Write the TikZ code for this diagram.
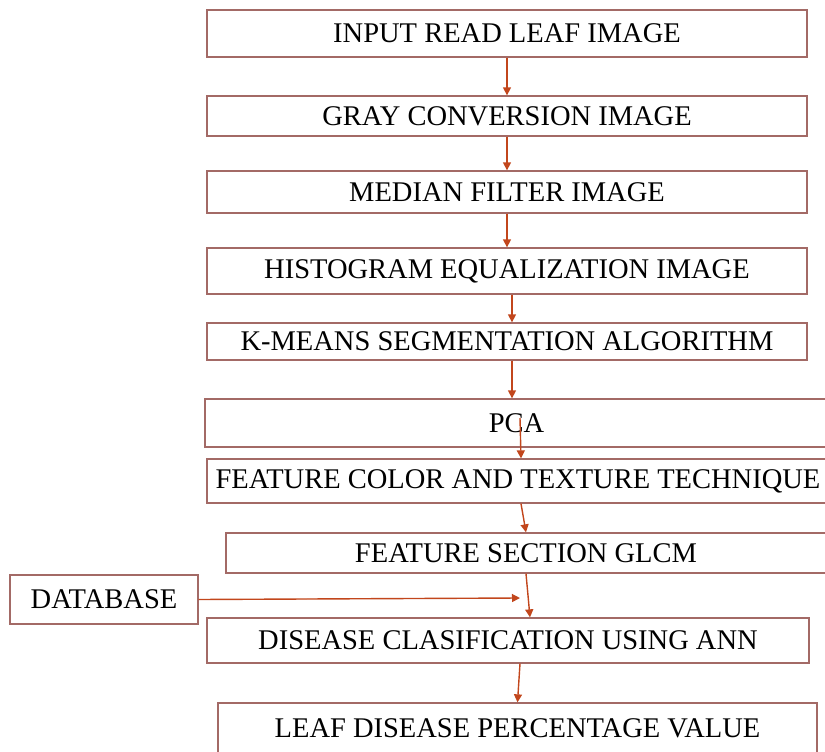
\documentclass[tikz,border=0pt]{standalone}
\usepackage{fontspec}
\setmainfont{Liberation Serif}
\usetikzlibrary{arrows.meta,positioning}
\definecolor{boxline}{HTML}{A36A66}
\definecolor{arrline}{HTML}{C2461C}

\begin{document}
\begin{tikzpicture}[x=1pt,y=-1pt,
  box/.style={draw=boxline,line width=1.3pt,rectangle,inner sep=0pt,
    font=\fontsize{28.5}{30}\selectfont},
  arr/.style={-{Triangle[length=8pt,width=8pt]},draw=arrline,fill=arrline,line width=1.4pt}]
\useasboundingbox (0,0) rectangle (825,752);
\clip (0,0) rectangle (825,752);
\node[box,minimum width=600pt,minimum height=47pt] (read) at (507,33.5) {INPUT READ LEAF IMAGE};
\node[box,minimum width=600pt,minimum height=40pt] (gray) at (507,116) {GRAY CONVERSION IMAGE};
\node[box,minimum width=600pt,minimum height=42pt] (median) at (507,192) {MEDIAN FILTER IMAGE};
\node[box,minimum width=600pt,minimum height=46pt] (hist) at (507,271) {HISTOGRAM EQUALIZATION IMAGE};
\node[box,minimum width=600pt,minimum height=37pt] (kmeans) at (507,341.5) {K-MEANS SEGMENTATION ALGORITHM};
\node[box,minimum width=623pt,minimum height=48pt] (pca) at (516.5,423) {PCA};
\node[box,minimum width=622pt,minimum height=44pt] (feat) at (518,481) {FEATURE COLOR AND TEXTURE TECHNIQUE};
\node[box,minimum width=600pt,minimum height=40pt] (glcm) at (526,553) {FEATURE SECTION GLCM};
\node[box,minimum width=188pt,minimum height=49pt] (db) at (104,599.5) {DATABASE};
\node[box,minimum width=602pt,minimum height=45pt] (ann) at (508,640.5) {DISEASE CLASIFICATION USING ANN};
\node[box,minimum width=599pt,minimum height=50pt] (leaf) at (517.5,728) {LEAF DISEASE PERCENTAGE VALUE};
\coordinate (dbend) at (520,598);
\draw[arr] (read.south) -- (gray.north);
\draw[arr] (gray.south) -- (median.north);
\draw[arr] (median.south) -- (hist.north);
\draw[arr] ([xshift=5pt]hist.south) -- ([xshift=5pt]kmeans.north);
\draw[arr] ([xshift=5pt]kmeans.south) -- ([xshift=-4.5pt]pca.north);
\draw[arr] ([shift={(3.5pt,5pt)}]pca.center) -- ([xshift=3pt]feat.north);
\draw[arr] ([xshift=3pt]feat.south) -- (glcm.north);
\draw[arr] (glcm.south) -- ([xshift=22pt]ann.north);
\draw[arr] (db.east) -- (dbend);
\draw[arr] ([xshift=12pt]ann.south) -- (leaf.north);
\end{tikzpicture}
\end{document}
